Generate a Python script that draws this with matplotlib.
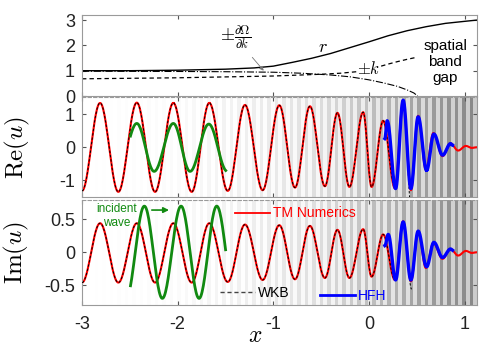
import numpy as np
import matplotlib
matplotlib.use('Agg')
import matplotlib.pyplot as plt
from matplotlib.lines import Line2D

plt.rcParams['font.family'] = ['Liberation Sans', 'DejaVu Sans']
plt.rcParams['mathtext.fontset'] = 'cm'
plt.rcParams['axes.unicode_minus'] = False

# ------------------------------
# data
# ------------------------------
# top panel: r, +k, +dOmega/dk
r_x = [-3, -2.5, -2, -1.5, -1.2, -1.0, -0.8, -0.6, -0.4, -0.2, 0, 0.2, 0.4, 0.6, 0.8, 1.0, 1.13]
r_y = [1.0, 1.0, 1.02, 1.06, 1.11, 1.18, 1.33, 1.49, 1.68, 1.91, 2.14, 2.38, 2.58, 2.74, 2.87, 2.95, 3.0]
k_x = [-3, -2, -1, -0.5, -0.3, -0.1, 0.0, 0.1, 0.2, 0.3, 0.4, 0.5]
k_y = [0.68, 0.72, 0.79, 0.86, 0.9, 0.97, 1.03, 1.15, 1.26, 1.36, 1.45, 1.53]
dw_x = [-3, -2, -1.5, -1.0, -0.7, -0.4, -0.2, 0, 0.15, 0.3, 0.4, 0.47, 0.51]
dw_y = [0.98, 0.97, 0.96, 0.94, 0.9, 0.83, 0.76, 0.64, 0.52, 0.38, 0.24, 0.12, 0.0]

# extrema of Re(u) and Im(u) (TM numerics)
ext_x = [-3.0, -2.811, -2.620, -2.427, -2.236, -2.045, -1.853, -1.669, -1.476, -1.296,
         -1.111, -0.937, -0.773, -0.617, -0.460, -0.329, -0.204, -0.060, 0.028, 0.149,
         0.272, 0.358, 0.439, 0.515, 0.596, 0.674, 0.770, 0.852, 0.933, 1.014, 1.076, 1.13]
re_y = [-1.32, 1.34, -1.35, 1.35, -1.35, 1.34, -1.35, 1.34, -1.32, 1.28,
        -1.30, 1.27, -1.22, 1.24, -1.18, 1.04, -1.20, 1.06, -1.20, 0.80,
        -1.24, 1.42, -1.30, 0.95, -0.68, 0.43, -0.27, 0.12, -0.10, 0.04, -0.02, 0.0]
im_y = [-0.46, 0.44, -0.46, 0.44, -0.46, 0.44, -0.46, 0.44, -0.45, 0.42,
        -0.42, 0.41, -0.41, 0.40, -0.39, 0.34, -0.39, 0.35, -0.37, 0.27,
        -0.42, 0.47, -0.44, 0.32, -0.24, 0.14, -0.10, 0.05, -0.05, 0.02, -0.01, 0.0]

# WKB blows up at the turning point
wkb_end_x = 0.447
wkb_re_end = -2.0
wkb_im_end = -0.56

# HFH
hfh_x = [0.167, 0.191, 0.279, 0.358, 0.439, 0.515, 0.603, 0.679, 0.770, 0.854, 0.875]
hfh_re = [0.26, 0.80, -1.25, 1.42, -1.25, 0.92, -0.70, 0.40, -0.24, 0.11, 0.06]
hfh_imx = [0.167, 0.202, 0.279, 0.358, 0.439, 0.515, 0.603, 0.679, 0.770, 0.854, 0.875]
hfh_im = [0.10, 0.27, -0.42, 0.46, -0.42, 0.32, -0.22, 0.15, -0.08, 0.05, 0.03]

# incident wave (green)
inc_re_x = [-2.620, -2.427, -2.246, -2.045, -1.870, -1.674, -1.484]
inc_re_y = [-0.72, 0.72, -0.73, 0.72, -0.73, 0.70, -0.72]
inc_im_x = [-2.539, -2.348, -2.160, -1.964, -1.776, -1.591, -1.400]
inc_im_y = [-0.70, 0.70, -0.70, 0.70, -0.70, 0.70, -0.70]
inc_span = (-2.495, -1.494)

# grey layers of the medium
cell = 0.0784
stripe_x = [-3, -2, -1.5, -1, -0.5, 0, 0.5, 1.13]
dark_grey = [1.0, 0.985, 0.955, 0.92, 0.87, 0.76, 0.64, 0.53]
light_grey = [1.0, 1.0, 1.0, 0.99, 0.97, 0.93, 0.87, 0.80]

green = '#118a11'
spine_c = '#9a9a9a'


def wave(xe, ye, x0=None, x1=None, n=30):
    # half-cosine segments between successive extrema
    xs, ys = [], []
    t = np.linspace(0, 1, n)
    s = (1 - np.cos(np.pi * t)) / 2
    for i in range(len(xe) - 1):
        xs.append(xe[i] + (xe[i + 1] - xe[i]) * t)
        ys.append(ye[i] + (ye[i + 1] - ye[i]) * s)
    xs = np.concatenate(xs); ys = np.concatenate(ys)
    m = np.ones_like(xs, dtype=bool)
    if x0 is not None:
        m &= xs >= x0
    if x1 is not None:
        m &= xs <= x1
    return xs[m], ys[m]


def stripes(ax):
    x0 = 0.115 - cell * np.ceil((0.115 + 3.1) / cell)
    starts = np.arange(x0, 1.2, cell)
    for s in starts:
        c = s + cell / 2
        lg = np.interp(c, stripe_x, light_grey)
        dg = np.interp(c, stripe_x, dark_grey)
        ax.axvspan(s - cell * 0.55, s, color=str(lg), lw=0, zorder=0)
        ax.axvspan(s, s + cell * 0.45, color=str(dg), lw=0, zorder=0)


def style(ax, xlabels=False):
    ax.set_xlim(-3, 1.13)
    ax.tick_params(direction='in', length=3, color='#555555', labelsize=13,
                   right=True, top=True, pad=5, labelcolor='#222222')
    ax.tick_params(axis='x', pad=8)
    ax.set_xticks([-3, -2, -1, 0, 1])
    if not xlabels:
        ax.set_xticklabels([])
    for sp in ax.spines.values():
        sp.set_color(spine_c)
        sp.set_linewidth(0.8)


fig = plt.figure(figsize=(5.04, 3.46), dpi=100)
ax1 = fig.add_axes([0.1627, 0.7225, 0.7837, 0.2341])
ax2 = fig.add_axes([0.1627, 0.4292, 0.7837, 0.2905])
ax3 = fig.add_axes([0.1627, 0.1185, 0.7837, 0.3049])

# ---- top panel
ax1.plot(r_x, r_y, 'k-', lw=1.0)
ax1.plot(k_x, k_y, 'k--', lw=0.9, dashes=(3.5, 2.5))
ax1.plot(dw_x, dw_y, 'k-.', lw=0.8)
ax1.set_ylim(0, 3.2)
ax1.set_yticks([0, 1, 2, 3])
ax1.annotate(r'$\pm\frac{\partial\Omega}{\partial k}$', xy=(-1.10, 1.0), xytext=(-1.39, 2.28),
             ha='center', va='center', fontsize=13,
             arrowprops=dict(arrowstyle='-|>', color='#777777', lw=0.6, mutation_scale=6,
                             shrinkA=2, shrinkB=0))
ax1.text(-0.48, 1.92, r'$r$', fontsize=13, ha='center', va='center')
ax1.text(0.0, 1.1, r'$\pm k$', fontsize=12, ha='center', va='center',
         bbox=dict(fc='white', ec='none', pad=0.5))
ax1.text(0.80, 1.34, 'spatial\nband\ngap', fontsize=11, ha='center', va='center',
         linespacing=1.15)
style(ax1)

# ---- Re(u)
stripes(ax2)
ax2.plot(*wave(ext_x, re_y), color='red', lw=1.5, zorder=2)
wx = [x for x in ext_x if x <= 0.36] + [wkb_end_x]
wr = re_y[:len(wx) - 1] + [wkb_re_end]
ax2.plot(*wave(wx, wr), color='black', lw=0.7, ls='--', dashes=(2.5, 2.0), zorder=3)
ax2.plot(*wave(hfh_x, hfh_re), color='blue', lw=2.4, zorder=4)
ax2.plot(*wave(inc_re_x, inc_re_y, *inc_span), color=green, lw=2.0, zorder=4)
ax2.set_ylim(-1.52, 1.52)
ax2.set_yticks([-1, 0, 1])
ax2.set_ylabel(r'$\mathrm{Re}(u)$', fontsize=18)
ax2.yaxis.set_label_coords(-0.127, 0.5)
style(ax2)
ax2.spines['top'].set_linestyle((0, (3, 2)))

# ---- Im(u)
stripes(ax3)
ax3.plot(*wave(ext_x, im_y), color='red', lw=1.5, zorder=2)
wi = im_y[:len(wx) - 1] + [wkb_im_end]
ax3.plot(*wave(wx, wi), color='black', lw=0.7, ls='--', dashes=(2.5, 2.0), zorder=3)
ax3.plot(*wave(hfh_imx, hfh_im), color='blue', lw=2.4, zorder=4)
ax3.plot(*wave(inc_im_x, inc_im_y, *inc_span), color=green, lw=2.0, zorder=4)
ax3.annotate('', xy=(-2.09, 0.64), xytext=(-2.27, 0.64),
             arrowprops=dict(arrowstyle='-|>', color=green, lw=1.2, mutation_scale=8,
                             shrinkA=0, shrinkB=0))
ax3.text(-2.636, 0.55, 'incident\nwave', color=green, fontsize=8.5, ha='center',
         va='center', linespacing=1.2)
ax3.set_ylim(-0.8, 0.8)
ax3.set_yticks([-0.5, 0, 0.5])
ax3.set_yticklabels(['-0.5', '0', '0.5'])
ax3.set_ylabel(r'$\mathrm{Im}(u)$', fontsize=18)
ax3.yaxis.set_label_coords(-0.13, 0.5)
ax3.set_xlabel(r'$x$', fontsize=17)
ax3.xaxis.set_label_coords(0.438, -0.29)
ax3.xaxis.label.set_va('center')
style(ax3, xlabels=True)
ax3.spines['top'].set_linestyle((0, (3, 2)))

leg_kw = dict(frameon=False, fontsize=10, handlelength=2.5, handletextpad=0.25,
              borderpad=0, borderaxespad=0, loc='center left')
l1 = ax3.legend([Line2D([], [], color='red', lw=1.3)], ['TM Numerics'],
                bbox_to_anchor=(0.387, 0.868), labelcolor='red', **leg_kw)
ax3.add_artist(l1)
l2 = ax3.legend([Line2D([], [], color='#444444', lw=1.0, ls='--', dashes=(3, 2))], ['WKB'],
                bbox_to_anchor=(0.349, 0.113), labelcolor='black', **leg_kw)
ax3.add_artist(l2)
ax3.legend([Line2D([], [], color='blue', lw=2.0)], ['HFH'],
           bbox_to_anchor=(0.603, 0.085), labelcolor='blue', **leg_kw)

fig.savefig('out.png', dpi=100)
